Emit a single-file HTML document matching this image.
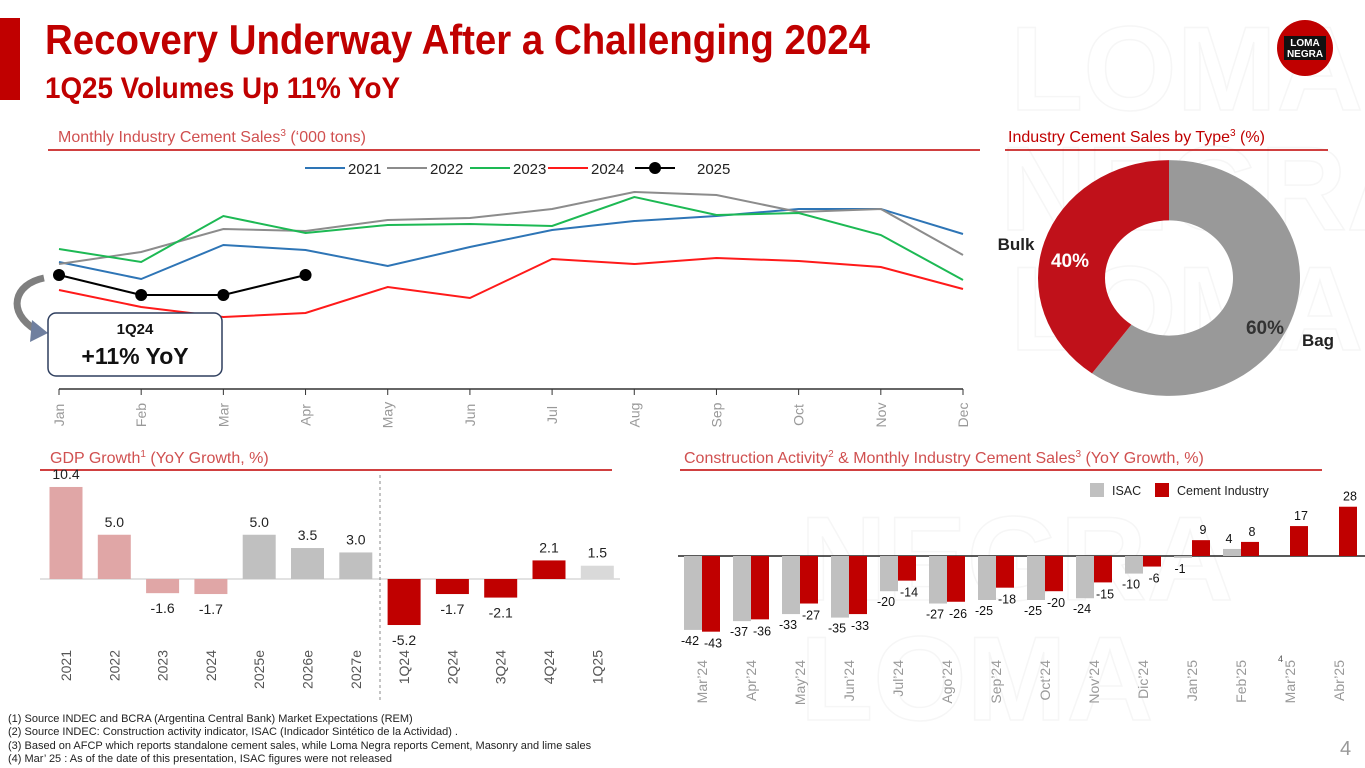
<!DOCTYPE html>
<html><head><meta charset="utf-8">
<style>
html,body{margin:0;padding:0;background:#fff;}
svg{display:block;font-family:"Liberation Sans",sans-serif;}
</style></head>
<body>
<svg id="s" width="1365" height="768" viewBox="0 0 1365 768" xmlns="http://www.w3.org/2000/svg">
  <g fill="none" stroke="#f6f6f6" stroke-width="1.5" font-weight="bold" font-size="120">
    <text x="1010" y="110">LOMA</text>
    <text x="1000" y="230">NEGRA</text>
    <text x="1010" y="350">LOMA</text>
    <text x="800" y="600">NEGRA</text>
    <text x="800" y="720">LOMA</text>
  </g>
  <rect x="0" y="18" width="20" height="82" fill="#c00000"/>
  <text x="45" y="54" font-size="42" font-weight="bold" fill="#c00000" textLength="825" lengthAdjust="spacingAndGlyphs">Recovery Underway After a Challenging 2024</text>
  <text x="45" y="98" font-size="30" font-weight="bold" fill="#c00000" textLength="355" lengthAdjust="spacingAndGlyphs">1Q25 Volumes Up 11% YoY</text>
  <g>
    <circle cx="1305" cy="48" r="28" fill="#c00000"/>
    <rect x="1284" y="36" width="42" height="24" fill="#111"/>
    <text x="1305" y="46" font-size="10" font-weight="bold" fill="#fff" text-anchor="middle">LOMA</text>
    <text x="1305" y="57" font-size="10" font-weight="bold" fill="#fff" text-anchor="middle">NEGRA</text>
  </g>

  <text x="58" y="142" font-size="16" fill="#d05050">Monthly Industry Cement Sales<tspan font-size="10" dy="-6">3</tspan><tspan dy="6"> (‘000 tons)</tspan></text>
  <line x1="48" y1="150" x2="980" y2="150" stroke="#c00000" stroke-width="1.5"/>
  <text x="1008" y="142" font-size="16" fill="#c00000">Industry Cement Sales by Type<tspan font-size="10" dy="-6">3</tspan><tspan dy="6"> (%)</tspan></text>
  <line x1="1005" y1="150" x2="1328" y2="150" stroke="#c00000" stroke-width="1.5"/>
  <text x="50" y="463" font-size="16" fill="#d05050">GDP Growth<tspan font-size="10" dy="-6">1</tspan><tspan dy="6"> (YoY Growth, %)</tspan></text>
  <line x1="40" y1="470" x2="612" y2="470" stroke="#c00000" stroke-width="1.5"/>
  <text x="684" y="463" font-size="16" fill="#d05050">Construction Activity<tspan font-size="10" dy="-6">2</tspan><tspan dy="6"> &amp; Monthly Industry Cement Sales</tspan><tspan font-size="10" dy="-6">3</tspan><tspan dy="6"> (YoY Growth, %)</tspan></text>
  <line x1="680" y1="470" x2="1322" y2="470" stroke="#c00000" stroke-width="1.5"/>

  <g id="lineChart"></g>
  <g id="donut"></g>
  <g id="gdp"></g>
  <g id="cons"></g>

  <g font-size="11" fill="#222">
    <text x="8" y="722">(1)  Source INDEC and BCRA (Argentina Central Bank) Market Expectations (REM)</text>
    <text x="8" y="735">(2)  Source INDEC: Construction activity indicator, ISAC (Indicador Sintético de la Actividad) .</text>
    <text x="8" y="749">(3)  Based on AFCP which reports standalone cement sales, while Loma Negra reports Cement, Masonry and lime sales</text>
    <text x="8" y="762">(4)  Mar’ 25 : As of the date of this presentation, ISAC figures  were not released</text>
  </g>
  <text x="1340" y="755" font-size="20" fill="#999">4</text>
</svg>
<script>
const NS="http://www.w3.org/2000/svg";
function mk(parent,tag,attrs,txt){const e=document.createElementNS(NS,tag);for(const k in attrs)e.setAttribute(k,attrs[k]);if(txt!==undefined)e.textContent=txt;parent.appendChild(e);return e;}

const months=["Jan","Feb","Mar","Apr","May","Jun","Jul","Aug","Sep","Oct","Nov","Dec"];
const s2021=[908,840,976,956,892,968,1036,1072,1092,1120,1120,1020];
const s2022=[900,948,1040,1032,1076,1084,1120,1188,1176,1108,1120,936];
const s2023=[960,908,1092,1024,1056,1060,1052,1168,1096,1104,1016,836];
const s2024=[796,728,688,704,808,764,920,900,924,912,888,800];
const s2025=[856,776,776,856];
const lineNames=["2021","2022","2023","2024","2025"];
const typeLabels=["Bag","Bulk"];
const typeShares=[60,40];
const gdpCats=["2021","2022","2023","2024","2025e","2026e","2027e","1Q24","2Q24","3Q24","4Q24","1Q25"];
const gdpVals=[10.4,5.0,-1.6,-1.7,5.0,3.5,3.0,-5.2,-1.7,-2.1,2.1,1.5];
const consCats=["Mar’24","Apr’24","May’24","Jun’24","Jul’24","Ago’24","Sep’24","Oct’24","Nov’24","Dic’24","Jan’25","Feb’25","Mar’25","Abr’25"];
const isacVals=[-42,-37,-33,-35,-20,-27,-25,-25,-24,-10,-1,4,null,null];
const cementVals=[-43,-36,-27,-33,-14,-26,-18,-20,-15,-6,9,8,17,28];

(function(){
  const g=document.getElementById('lineChart');
  const x=i=>59+i*(963-59)/11;
  const y=v=>389-(v-400)/4;
  mk(g,'line',{x1:59,y1:389,x2:963,y2:389,stroke:'#333','stroke-width':1.5,});
  months.forEach((m,i)=>{
    mk(g,'line',{x1:x(i),y1:389,x2:x(i),y2:395,stroke:'#333'});
    const t=mk(g,'text',{x:x(i)+5,y:415,'font-size':14,fill:'#999','text-anchor':'middle',transform:`rotate(-90 ${x(i)+5} 415)`},m);
    
    
  });
  const series=[s2021,s2022,s2023,s2024,s2025];
  const cols=['#2e75b6','#8c8c8c','#1db954','#ff1a1a','#000'];
  series.forEach((s,k)=>{
    const p=mk(g,'polyline',{points:s.map((v,i)=>x(i)+','+y(v)).join(' '),fill:'none',stroke:cols[k],'stroke-width':2});
    
    
  });
  s2025.forEach((v,i)=>{
    const c=mk(g,'circle',{cx:x(i),cy:y(v),r:6,fill:'#000'});
    
    
  });
  const lx=[305,387,470,548,635];
  lineNames.forEach((n,k)=>{
    const lg=mk(g,'g',{});
    
    
    mk(lg,'line',{x1:lx[k],y1:168,x2:lx[k]+40,y2:168,stroke:cols[k],'stroke-width':2});
    if(k===4) mk(lg,'circle',{cx:lx[k]+20,cy:168,r:6,fill:'#000'});
    mk(lg,'text',{x:lx[k]+(k===4?62:43),y:174,'font-size':15,fill:'#222'},n);
  });
  const a=mk(g,'g',{});
  
  
  mk(a,'path',{d:'M44 278 C14 284 6 312 36 330',fill:'none',stroke:'#7f7f7f','stroke-width':7});
  mk(a,'path',{d:'M32 320 L48 333 L30 342 Z',fill:'#6f7f9f'});
  mk(a,'rect',{x:48,y:313,width:174,height:63,rx:8,fill:'#fff',stroke:'#2f3f5f','stroke-width':1.5});
  mk(a,'text',{x:135,y:334,'font-size':15,'font-weight':'bold','text-anchor':'middle',fill:'#111'},'1Q24');
  mk(a,'text',{x:135,y:364,'font-size':23,'font-weight':'bold','text-anchor':'middle',fill:'#111'},'+11% YoY');
})();

(function(){
  const g=document.getElementById('donut');
  const cx=1169,cy=278,R=131,r=64,sy=0.9;
  const cols=['#999999','#c0111a'];
  let a0=0;
  const total=typeShares.reduce((a,b)=>a+b,0);
  const dg=mk(g,'g',{transform:`translate(${cx} ${cy}) scale(1 ${sy})`});
  typeShares.forEach((v,k)=>{
    const a1=a0+v/total*2*Math.PI;
    const P=(rad,a)=>[rad*Math.sin(a),-rad*Math.cos(a)];
    const [x0,y0]=P(R,a0),[x1,y1]=P(R,a1),[x2,y2]=P(r,a1),[x3,y3]=P(r,a0);
    const lg=(a1-a0)>Math.PI?1:0;
    const p=mk(dg,'path',{d:`M${x0} ${y0} A${R} ${R} 0 ${lg} 1 ${x1} ${y1} L${x2} ${y2} A${r} ${r} 0 ${lg} 0 ${x3} ${y3} Z`,fill:cols[k]});
    
    
    a0=a1;
  });
  const t1=mk(g,'text',{x:1265,y:334,'font-size':19,'font-weight':'bold',fill:'#333','text-anchor':'middle'},typeShares[0]+'%');
  
  const t2=mk(g,'text',{x:1070,y:267,'font-size':19,'font-weight':'bold',fill:'#fff','text-anchor':'middle'},typeShares[1]+'%');
  
  const t3=mk(g,'text',{x:1318,y:346,'font-size':17,'font-weight':'bold',fill:'#222','text-anchor':'middle'},typeLabels[0]);
  
  const t4=mk(g,'text',{x:1016,y:250,'font-size':17,'font-weight':'bold',fill:'#222','text-anchor':'middle'},typeLabels[1]);
  
})();

(function(){
  const g=document.getElementById('gdp');
  const x=i=>66+i*48.3;
  const y=v=>579-v*8.85;
  const bw=33;
  const colFor=i=>i<4?'#e0a6a6':(i<7?'#c0c0c0':(i<11?'#c00000':'#d9d9d9'));
  mk(g,'line',{x1:40,y1:579,x2:620,y2:579,stroke:'#d9d9d9','stroke-width':1.5,});
  mk(g,'line',{x1:380,y1:475,x2:380,y2:700,stroke:'#888','stroke-dasharray':'3,3',});
  gdpVals.forEach((v,i)=>{
    const r=mk(g,'rect',{x:x(i)-bw/2,y:Math.min(y(v),579),width:bw,height:Math.abs(y(v)-579),fill:colFor(i)});
    
    
    const ly=v>=0?y(v)-8:y(v)+20;
    const t=mk(g,'text',{x:x(i),y:ly,'font-size':14,fill:'#222','text-anchor':'middle'},v.toFixed(1));
    
    
    const c=mk(g,'text',{x:x(i)+5,y:650,'font-size':14,fill:'#555','text-anchor':'end',transform:`rotate(-90 ${x(i)+5} 650)`},gdpCats[i]);
    
    
  });
})();

(function(){
  const g=document.getElementById('cons');
  const cx=i=>702+i*49;
  const y=v=>556-v*1.76;
  const bw=18;
  mk(g,'line',{x1:678,y1:556,x2:1365,y2:556,stroke:'#222','stroke-width':1.5,});
  consCats.forEach((c,i)=>{
    const iv=isacVals[i],cv=cementVals[i];
    if(iv!==null){
      const r=mk(g,'rect',{x:cx(i)-bw,y:Math.min(y(iv),556),width:bw,height:Math.max(1.5,Math.abs(y(iv)-556)),fill:'#c0c0c0'});
      
      
      const t=mk(g,'text',{x:cx(i)-bw/2-3,y:iv>=0?y(iv)-6:y(iv)+15,'font-size':12.5,fill:'#111','text-anchor':'middle'},String(iv));
      
      
    }
    const r2=mk(g,'rect',{x:cx(i),y:Math.min(y(cv),556),width:bw,height:Math.abs(y(cv)-556),fill:'#c00000'});
    
    
    const t2=mk(g,'text',{x:cx(i)+bw/2+2,y:cv>=0?y(cv)-6:y(cv)+16,'font-size':12.5,fill:'#111','text-anchor':'middle'},String(cv));
    
    
    const l=mk(g,'text',{x:cx(i)+5,y:660,'font-size':14,fill:'#999','text-anchor':'end',transform:`rotate(-90 ${cx(i)+5} 660)`},c);
    
    
  });
  const lg=mk(g,'g',{});
  
  
  mk(lg,'rect',{x:1090,y:483,width:14,height:14,fill:'#c0c0c0'});
  mk(lg,'text',{x:1112,y:495,'font-size':12.5,fill:'#222'},'ISAC');
  mk(lg,'rect',{x:1155,y:483,width:14,height:14,fill:'#c00000'});
  mk(lg,'text',{x:1177,y:495,'font-size':12.5,fill:'#222'},'Cement Industry');
  mk(g,'text',{x:1278,y:662,'font-size':9,fill:'#555',},'4');
})();
</script>
</body></html>
